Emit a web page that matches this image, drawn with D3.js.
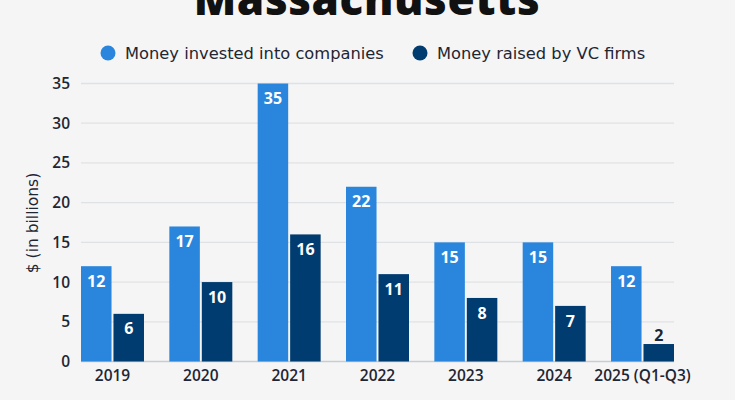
<!DOCTYPE html>
<html>
<head>
<meta charset="utf-8">
<script src="https://cdn.jsdelivr.net/npm/d3@7"></script>
<style>
  html, body { margin: 0; padding: 0; background: #f5f5f5; }
  svg { display: block; font-family: "Open Sans", "DejaVu Sans", sans-serif; }
</style>
</head>
<body>
<svg id="chart" width="735" height="400"></svg>
<script>
const years = ['2019', '2020', '2021', '2022', '2023', '2024', '2025 (Q1-Q3)'];
const investedValues = [12, 17, 35, 22, 15, 15, 12];
const raisedValues = [6, 10, 16, 11, 8, 7, 2.2];
const seriesNames = ['Money invested into companies', 'Money raised by VC firms'];
const seriesColors = ['#2a86dd', '#013c70'];
const yTicks = [0, 5, 10, 15, 20, 25, 30, 35];

const svg = d3.select('#chart');
const margin = { top: 83.5, right: 61, bottom: 38.5, left: 81 };
const width = 735 - margin.left - margin.right;
const height = 400 - margin.top - margin.bottom;

const rows = years.map((y, i) => ({
  year: y,
  values: [investedValues[i], raisedValues[i]]
}));

// title, partly cut off at the top like the original
svg
  .append('text')
  .attr('x', 367)
  .attr('y', 15)
  .attr('text-anchor', 'middle')
  .style('font-size', '44px')
  .style('font-weight', '800')
  .style('letter-spacing', '0.6px')
  .style('fill', '#111')
  .text('Massachusetts');

// legend
const legendX = [108, 420];
seriesNames.forEach((name, i) => {
  const g = svg.append('g').attr('transform', `translate(${legendX[i]},53)`);
  g.append('circle').attr('r', 7.5).attr('fill', seriesColors[i]);
  g.append('text')
    .attr('x', 17)
    .attr('dy', '0.35em')
    .style('font-family', '"DejaVu Sans", sans-serif')
    .style('font-size', '16.3px')
    .style('fill', '#1f2633')
    .text(name);
});

const plot = svg
  .append('g')
  .attr('transform', `translate(${margin.left},${margin.top})`);

const xScale = d3.scaleBand().domain(years).range([0, width]).paddingInner(0.287).paddingOuter(0);
const xInner = d3.scaleBand().domain([0, 1]).range([0, xScale.bandwidth()]).paddingInner(0.06);
const yScale = d3.scaleLinear().domain([0, 35]).range([height, 0]);

// gridlines
plot
  .selectAll('.grid')
  .data(yTicks)
  .enter()
  .append('line')
  .attr('class', 'grid')
  .attr('x1', 0)
  .attr('x2', width)
  .attr('y1', (d) => yScale(d))
  .attr('y2', (d) => yScale(d))
  .attr('stroke', (d) => (d === 0 ? '#c9cdd2' : '#dfe2e5'))
  .attr('stroke-width', 1.3);

// y axis labels
const yAxis = plot.append('g').call(d3.axisLeft(yScale).tickValues(yTicks).tickSize(0).tickPadding(11));
yAxis.select('.domain').remove();
yAxis
  .selectAll('text')
  .style('font-family', '"Open Sans", sans-serif')
  .style('font-size', '15.5px')
  .style('font-weight', '600')
  .style('fill', '#1f2633');

// x axis labels
const xAxis = plot
  .append('g')
  .attr('transform', `translate(0,${height})`)
  .call(d3.axisBottom(xScale).tickSize(0).tickPadding(8));
xAxis.select('.domain').remove();
xAxis
  .selectAll('text')
  .style('font-family', '"Open Sans", sans-serif')
  .style('font-size', '15.5px')
  .style('font-weight', '600')
  .style('fill', '#1f2633');

// axis title
svg
  .append('text')
  .attr('transform', 'rotate(-90)')
  .attr('x', -223)
  .attr('y', 33)
  .attr('dy', '0.35em')
  .attr('text-anchor', 'middle')
  .style('font-family', '"DejaVu Sans", sans-serif')
  .style('font-size', '15.5px')
  .style('fill', '#1f2633')
  .text('$ (in billions)');

// bars
const groups = plot
  .selectAll('.group')
  .data(rows)
  .enter()
  .append('g')
  .attr('class', 'group')
  .attr('transform', (d) => `translate(${xScale(d.year)},0)`);

const cells = groups
  .selectAll('.cell')
  .data((d) => d.values.map((v, i) => ({ v, i })))
  .enter()
  .append('g');

cells
  .append('rect')
  .attr('x', (d) => xInner(d.i))
  .attr('y', (d) => yScale(d.v))
  .attr('width', xInner.bandwidth())
  .attr('height', (d) => height - yScale(d.v))
  .attr('fill', (d) => seriesColors[d.i]);

cells
  .append('text')
  .attr('x', (d) => xInner(d.i) + xInner.bandwidth() / 2)
  .attr('y', (d) => (d.v > 4 ? yScale(d.v) + 15 : yScale(d.v) - 9))
  .attr('dy', '0.35em')
  .attr('text-anchor', 'middle')
  .style('font-size', '16px')
  .style('font-weight', '700')
  .style('fill', (d) => (d.v > 4 ? '#fff' : '#1f2633'))
  .text((d) => d3.format('.0f')(d.v));
</script>
</body>
</html>
